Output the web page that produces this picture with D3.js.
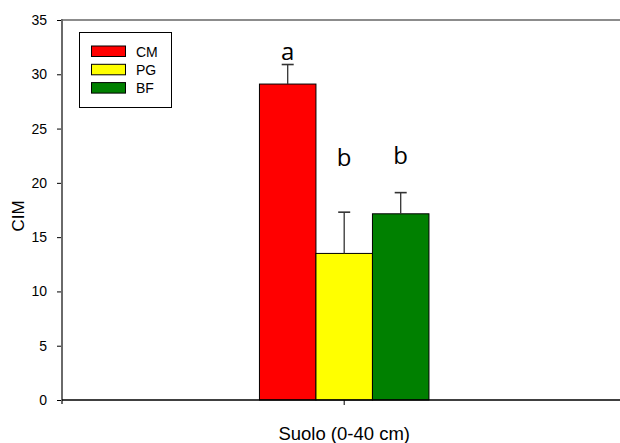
<!DOCTYPE html>
<html>
<head>
<meta charset="utf-8">
<script src="https://cdn.jsdelivr.net/npm/d3@7/dist/d3.min.js"></script>
<style>
  html, body { margin: 0; padding: 0; background: #fff; }
  svg { display: block; }
</style>
</head>
<body>
<svg id="chart" width="620" height="443"></svg>
<script>
// CIM in soil (0-40 cm) for three land uses
const groups = ["Suolo (0-40 cm)"];
const series = ["CM", "PG", "BF"];
const colors = ["#ff0000", "#ffff00", "#008000"];
const means = [29.1, 13.5, 17.15];
const errors = [1.8, 3.8, 1.95];
const letters = ["a", "b", "b"];
const letterAt = [31.3, 21.55, 21.75];
const yTicks = [0, 5, 10, 15, 20, 25, 30, 35];

const svg = d3.select("#chart");
const plotL = 62, plotR = 620, plotT = 20, plotB = 400;
const font = "Liberation Sans, Arial, sans-serif";

const y = d3.scaleLinear().domain([0, 35]).range([plotB, plotT]);
const x0 = d3.scaleBand().domain(groups).range([plotL, 626.4]);
const barW = 56.5;
const x1 = d3.scaleBand().domain(series).range([-barW * 1.5, barW * 1.5]);

const gx = x0(groups[0]) + x0.bandwidth() / 2;

// top frame line
svg.append("line")
  .attr("x1", plotL).attr("x2", plotR).attr("y1", plotT).attr("y2", plotT)
  .attr("stroke", "#666").attr("stroke-width", 1.5);

// y axis
const yAxis = svg.append("g")
  .attr("transform", `translate(${plotL},0)`)
  .call(d3.axisLeft(y).tickValues(yTicks).tickSize(5).tickPadding(10).tickSizeOuter(0));
yAxis.select(".domain").remove();
yAxis.selectAll(".tick line").attr("stroke", "#000");
yAxis.selectAll("text")
  .attr("font-family", font)
  .attr("font-size", 14).attr("fill", "#000");
svg.append("line")
  .attr("x1", plotL).attr("x2", plotL).attr("y1", plotT - 1).attr("y2", plotB + 4)
  .attr("stroke", "#6a6a6a").attr("stroke-width", 2);

// bars with upper error bars and significance letters
const bars = svg.append("g");
series.forEach((s, i) => {
  const bx = gx + x1(s);
  bars.append("rect")
    .attr("x", bx).attr("y", y(means[i]))
    .attr("width", x1.bandwidth()).attr("height", y(0) - y(means[i]))
    .attr("fill", colors[i]).attr("stroke", "#000").attr("stroke-width", 1);
  const cx = bx + x1.bandwidth() / 2;
  const yt = y(means[i] + errors[i]);
  bars.append("line")
    .attr("x1", cx).attr("x2", cx).attr("y1", y(means[i])).attr("y2", yt)
    .attr("stroke", "#333").attr("stroke-width", 1.3);
  bars.append("line")
    .attr("x1", cx - 6).attr("x2", cx + 6).attr("y1", yt).attr("y2", yt)
    .attr("stroke", "#333").attr("stroke-width", 1.6);
  bars.append("text")
    .attr("x", cx).attr("y", y(letterAt[i]))
    .attr("text-anchor", "middle")
    .attr("font-family", "Open Sans, sans-serif")
    .attr("font-size", 24).attr("fill", "#000")
    .text(letters[i]);
});

// x axis
svg.append("line")
  .attr("x1", plotL).attr("x2", plotR).attr("y1", plotB).attr("y2", plotB)
  .attr("stroke", "#000").attr("stroke-width", 1.5);
svg.append("line")
  .attr("x1", gx).attr("x2", gx).attr("y1", plotB).attr("y2", plotB + 5)
  .attr("stroke", "#000").attr("stroke-width", 1);

// axis titles
svg.append("text")
  .attr("x", gx).attr("y", 440)
  .attr("text-anchor", "middle")
  .attr("font-family", font)
  .attr("font-size", 18.5).attr("fill", "#000")
  .text(groups[0]);
svg.append("text")
  .attr("transform", "translate(24,216) rotate(-90)")
  .attr("text-anchor", "middle")
  .attr("font-family", font)
  .attr("font-size", 17).attr("fill", "#000")
  .text("CIM");

// legend
const leg = svg.append("g");
leg.append("rect")
  .attr("x", 79.5).attr("y", 32.5).attr("width", 92).attr("height", 75)
  .attr("fill", "#fff").attr("stroke", "#000").attr("stroke-width", 1);
series.forEach((s, i) => {
  const ly = 46 + i * 18.3;
  leg.append("rect")
    .attr("x", 91.5).attr("y", ly).attr("width", 34).attr("height", 10.5)
    .attr("fill", colors[i]).attr("stroke", "#000").attr("stroke-width", 1);
  leg.append("text")
    .attr("x", 136).attr("y", ly + 10.5)
    .attr("font-family", font)
    .attr("font-size", 14).attr("fill", "#000")
    .text(s);
});
</script>
</body>
</html>
